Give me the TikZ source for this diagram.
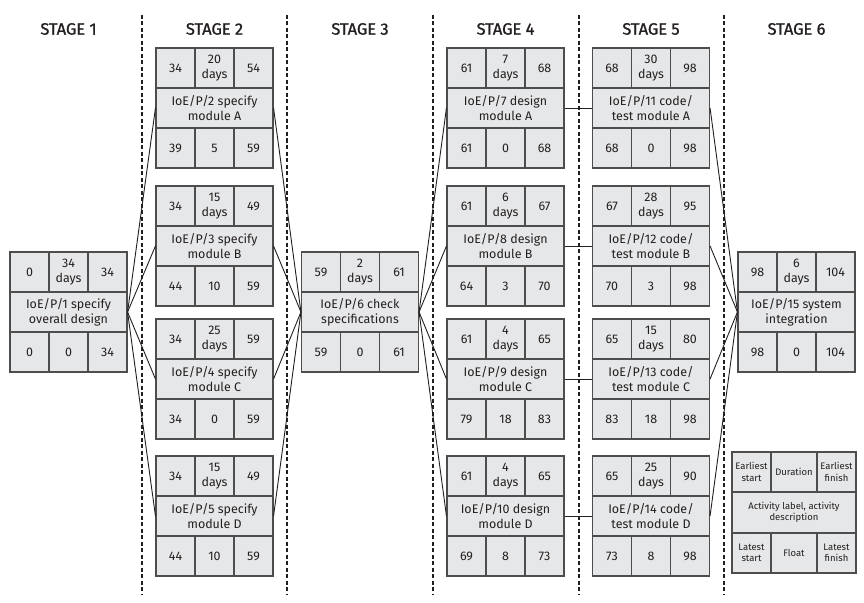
\documentclass[tikz,border=0pt]{standalone}
\usepackage{fontspec}
\setmainfont{Fira Sans}
\newfontfamily\titlefont[FakeBold=1.2]{Fira Sans}
\usepackage{tikz}

\definecolor{boxfill}{HTML}{E6E7E8}
\definecolor{boxline}{HTML}{4D4D4D}
\definecolor{inktext}{HTML}{231F20}

% one activity box: name, centre of the middle row, ES, duration, EF, label, LS, float, LF
\newcommand{\actbox}[9]{%
  \begin{scope}[shift={#2}]
    \node[cell] (#1-es) at (-39,-40) {#3};
    \node[cell] (#1-du) at (0,-40) {#4\\days};
    \node[cell] (#1-ef) at (39,-40) {#5};
    \node[desc] (#1) at (0,0) {#6};
    \node[cell] (#1-ls) at (-39,40) {#7};
    \node[cell] (#1-fl) at (0,40) {#8};
    \node[cell] (#1-lf) at (39,40) {#9};
  \end{scope}}

\begin{document}
\begin{tikzpicture}[x=1bp,y=-1bp,
    cell/.style={draw=boxline,fill=boxfill,line width=1.1bp,inner sep=0pt,
      minimum width=39bp,minimum height=40bp,align=center,text=inktext,
      font=\fontsize{12.5}{15}\selectfont},
    desc/.style={cell,minimum width=117bp},
    keycell/.style={cell,font=\fontsize{9.5}{11.5}\selectfont},
    stagetitle/.style={font=\titlefont\fontsize{16.5}{18}\selectfont,text=inktext},
    divider/.style={line width=1.1bp,inktext,dash pattern=on 4bp off 2.5bp},
    link/.style={line width=0.9bp,inktext}]

\useasboundingbox (0,0) rectangle (864,603);

% stage titles and dividers
\node[stagetitle] (t1) at (68.5,29) {STAGE 1};
\node[stagetitle] (t2) at (214.5,29) {STAGE 2};
\node[stagetitle] (t3) at (360,29) {STAGE 3};
\node[stagetitle] (t4) at (505.5,29) {STAGE 4};
\node[stagetitle] (t5) at (651,29) {STAGE 5};
\node[stagetitle] (t6) at (796.5,29) {STAGE 6};

\foreach \x in {142,287,433,579,724}
  \draw[divider] (\x,15) -- (\x,595);

% activities
\actbox{p1}{(68.5,312)}{0}{34}{34}{IoE/P/1 specify\\overall design}{0}{0}{34}

\actbox{p2}{(214.5,108)}{34}{20}{54}{IoE/P/2 specify\\module A}{39}{5}{59}
\actbox{p3}{(214.5,246)}{34}{15}{49}{IoE/P/3 specify\\module B}{44}{10}{59}
\actbox{p4}{(214.5,379)}{34}{25}{59}{IoE/P/4 specify\\module C}{34}{0}{59}
\actbox{p5}{(214.5,516)}{34}{15}{49}{IoE/P/5 specify\\module D}{44}{10}{59}

\actbox{p6}{(360,312)}{59}{2}{61}{IoE/P/6 check\\specifications}{59}{0}{61}

\actbox{p7}{(505.5,108)}{61}{7}{68}{IoE/P/7 design\\module A}{61}{0}{68}
\actbox{p8}{(505.5,246)}{61}{6}{67}{IoE/P/8 design\\module B}{64}{3}{70}
\actbox{p9}{(505.5,379)}{61}{4}{65}{IoE/P/9 design\\module C}{79}{18}{83}
\actbox{p10}{(505.5,516)}{61}{4}{65}{IoE/P/10 design\\module D}{69}{8}{73}

\actbox{p11}{(651,108)}{68}{30}{98}{IoE/P/11 code/\\test module A}{68}{0}{98}
\actbox{p12}{(651,246)}{67}{28}{95}{IoE/P/12 code/\\test module B}{70}{3}{98}
\actbox{p13}{(651,379)}{65}{15}{80}{IoE/P/13 code/\\test module C}{83}{18}{98}
\actbox{p14}{(651,516)}{65}{25}{90}{IoE/P/14 code/\\test module D}{73}{8}{98}

\actbox{p15}{(796.5,312)}{98}{6}{104}{IoE/P/15 system\\integration}{98}{0}{104}

% links between stages
\foreach \m in {p2,p3,p4,p5}
  \draw[link] (p1.east) -- (\m.west);
\foreach \m in {p2,p3,p4,p5}
  \draw[link] (\m.east) -- (p6.west);
\foreach \m in {p7,p8,p9,p10}
  \draw[link] (p6.east) -- (\m.west);
\foreach \a/\b in {p7/p11,p8/p12,p9/p13,p10/p14}
  \draw[link] (\a.east) -- (\b.west);
\foreach \m in {p11,p12,p13,p14}
  \draw[link] (\m.east) -- (p15.west);

% key
\node[keycell] (kes) at (751.5,472) {Earliest\\start};
\node[keycell,minimum width=46bp] (kdu) at (794,472) {Duration};
\node[keycell] (kef) at (836.5,472) {Earliest\\finish};
\node[keycell,minimum width=124bp] (klab) at (794,512.5) {Activity label, activity\\description};
\node[keycell] (kls) at (751.5,553) {Latest\\start};
\node[keycell,minimum width=46bp] (kfl) at (794,553) {Float};
\node[keycell] (klf) at (836.5,553) {Latest\\finish};

\end{tikzpicture}
\end{document}
